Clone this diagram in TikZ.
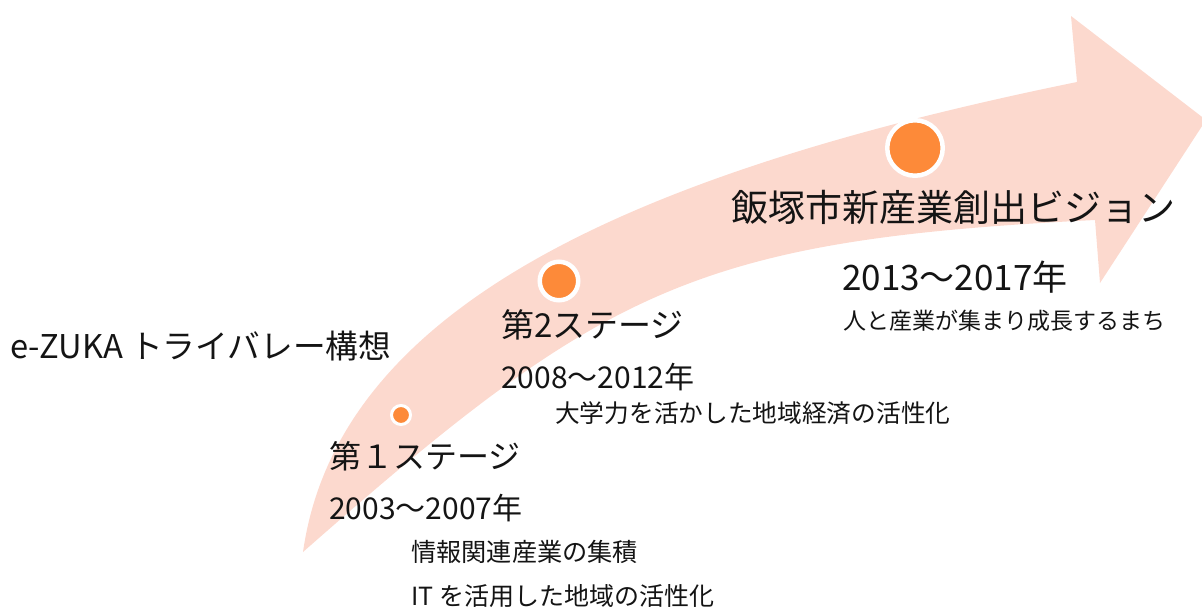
\documentclass[tikz,border=0pt]{standalone}
\usepackage{fontspec}
\setmainfont{Noto Sans CJK JP}
\definecolor{bandpink}{RGB}{252,217,206}
\definecolor{dotorange}{RGB}{253,138,57}
\definecolor{ink}{RGB}{20,20,20}
\tikzset{
  band/.style={fill=bandpink},
  dot/.style={circle, fill=dotorange, draw=white, inner sep=0pt},
  lbl/.style={anchor=west, inner sep=0pt, text=ink},
}
\begin{document}
\begin{tikzpicture}[x=1pt,y=-1pt]
\useasboundingbox (0,0) rectangle (1202,608);
\clip (0,0) rectangle (1202,608);
% curved arrow
\fill[band] (303,552) .. controls (338,305) and (636,172) .. (1077,82)
  -- (1071,16) -- (1206,120) -- (1100,283) -- (1095,220)
  .. controls (695,240) and (603,288) .. (303,552) -- cycle;
% dots
\node[dot, line width=3pt, minimum size=19pt] (d1) at (401,415) {};
\node[dot, line width=4.5pt, minimum size=38.5pt] (d2) at (559,281) {};
\node[dot, line width=4.5pt, minimum size=55.5pt] (d3) at (915,148) {};
% texts
\node[lbl, font=\fontsize{32.7}{36}\selectfont] (title) at (10,346) {e-ZUKA トライバレー構想};
\node[lbl, font=\fontsize{32}{36}\selectfont] (s1) at (329,456) {第１ステージ};
\node[lbl, font=\fontsize{30}{34}\selectfont] (y1) at (329,508) {2003～2007年};
\node[lbl, font=\fontsize{25.2}{30}\selectfont] (t1a) at (411,552) {情報関連産業の集積};
\node[lbl, font=\fontsize{25}{30}\selectfont] (t1b) at (411,596) {IT を活用した地域の活性化};
\node[lbl, font=\fontsize{33}{36}\selectfont] (s2) at (501,325) {第2ステージ};
\node[lbl, font=\fontsize{30}{34}\selectfont] (y2) at (501,377) {2008～2012年};
\node[lbl, font=\fontsize{24.7}{30}\selectfont] (t2) at (555,413) {大学力を活かした地域経済の活性化};
\node[lbl, font=\fontsize{37}{42}\selectfont] (s3) at (731,207) {飯塚市新産業創出ビジョン};
\node[lbl, font=\fontsize{35}{40}\selectfont] (y3) at (842,277) {2013～2017年};
\node[lbl, font=\fontsize{23}{28}\selectfont] (t3) at (843,321) {人と産業が集まり成長するまち};
\end{tikzpicture}
\end{document}
